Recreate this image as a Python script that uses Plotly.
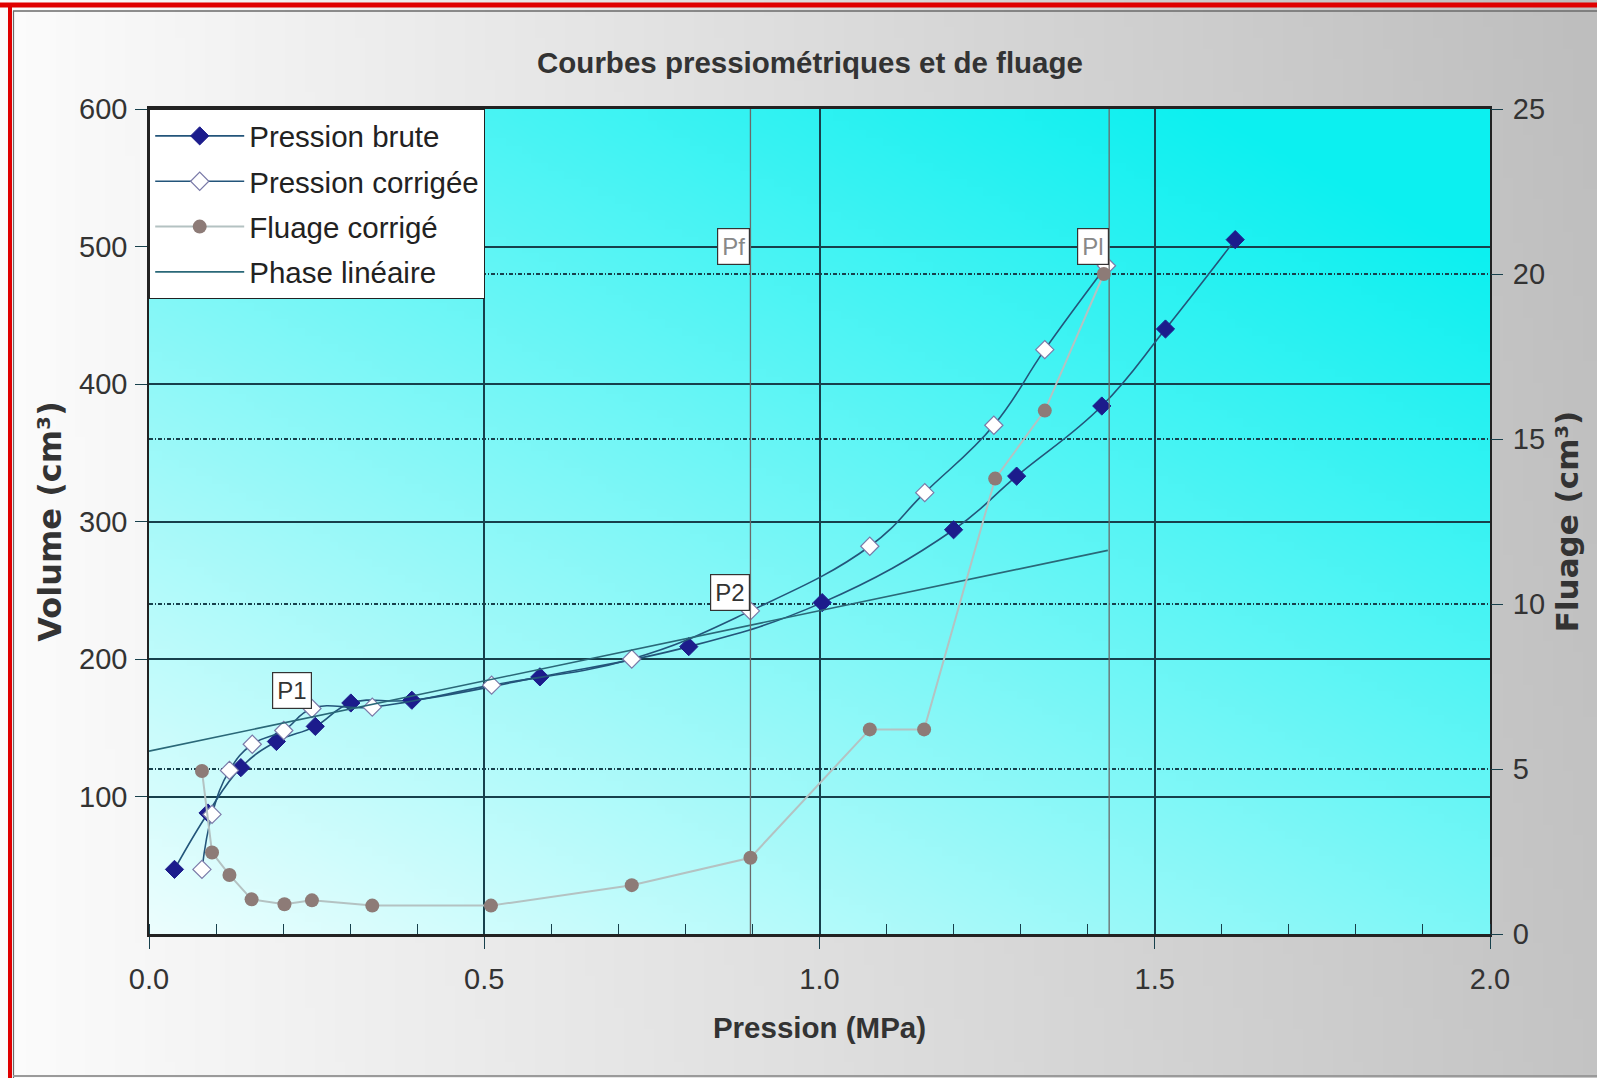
import base64
import struct
import zlib

import numpy as np
import plotly.graph_objects as go

# ---------------- data ----------------
pression_brute = [0.038, 0.088, 0.137, 0.190, 0.248, 0.301, 0.392, 0.583, 0.805, 1.004, 1.200, 1.294, 1.421, 1.516, 1.620]
volume_brute = [47, 88, 121, 140, 151, 168, 170, 187, 209, 241, 294, 333, 384, 440, 505]

pression_corrigee = [0.079, 0.094, 0.120, 0.154, 0.201, 0.243, 0.333, 0.511, 0.720, 0.897, 1.075, 1.157, 1.260, 1.336, 1.428]
volume_corrige = [47, 87, 119, 138, 148, 164, 165, 181, 200, 235, 282, 321, 370, 425, 486]

pression_fluage = [0.079, 0.094, 0.120, 0.153, 0.202, 0.243, 0.333, 0.510, 0.720, 0.897, 1.075, 1.156, 1.262, 1.336, 1.424]
fluage_corrige = [4.94, 2.47, 1.79, 1.05, 0.90, 1.02, 0.86, 0.86, 1.48, 2.31, 6.20, 6.20, 13.8, 15.86, 20.0]

phase_lineaire_x = [0.0, 1.43]
phase_lineaire_y = [133, 279]

pf_x = 0.897
pl_x = 1.432
vertical_y = [0, 600]

labels_points = {"P1": (0.243, 164), "P2": (0.897, 235)}
labels_lines = {"Pf": (pf_x, 500), "Pl": (pl_x, 500)}

x_tickvals = [0.0, 0.5, 1.0, 1.5, 2.0]
x_ticktext = ["0.0", "0.5", "1.0", "1.5", "2.0"]
y_tickvals = [100, 200, 300, 400, 500, 600]
y2_tickvals = [0, 5, 10, 15, 20, 25]

# ---------------- styles ----------------
W, H = 1597, 1078
L, R, T, B = 149, 107, 109, 144
PW, PH = W - L - R, H - T - B

SANS = "Liberation Sans, Arial, sans-serif"
WIDE_BOLD = "DejaVu Sans, Verdana, sans-serif"
GRID = "#17404c"
TXT = "#333333"


def png_uri(arr):
    h, w, _ = arr.shape
    raw = b"".join(b"\x00" + arr[i].tobytes() for i in range(h))

    def chunk(tag, data):
        c = struct.pack(">I", len(data)) + tag + data
        return c + struct.pack(">I", zlib.crc32(tag + data) & 0xFFFFFFFF)

    png = (b"\x89PNG\r\n\x1a\n"
           + chunk(b"IHDR", struct.pack(">IIBBBBB", w, h, 8, 2, 0, 0, 0))
           + chunk(b"IDAT", zlib.compress(raw, 9))
           + chunk(b"IEND", b""))
    return "data:image/png;base64," + base64.b64encode(png).decode()


# plot area gradient: light at bottom-left, cyan at top-right
gw, gh = 160, 100
u = np.linspace(0, 1, gw)[None, :]
v = np.linspace(1, 0, gh)[:, None]
t = np.clip(0.5 * u + 0.6 * v, 0, 1)
light = np.array([236, 254, 254], float)
cyan = np.array([12, 240, 240], float)
plot_img = (light[None, None, :] * (1 - t[..., None]) + cyan[None, None, :] * t[..., None]).astype(np.uint8)

# page gradient: white on the left, grey on the right
pu = np.linspace(0, 1, gw)[None, :] * np.ones((gh, 1))
pv = np.linspace(0, 1, gh)[:, None] * np.ones((1, gw))
shade = 252 - 56 * pu - 6 * (1 - pv) * pu
page_img = np.repeat(shade[..., None], 3, axis=2).astype(np.uint8)

fig = go.Figure()

fig.add_trace(go.Scatter(
    x=pression_brute, y=volume_brute, name="Pression brute", legendgroup="a",
    mode="lines+markers", line=dict(color="#23557a", width=1.6, shape="spline", smoothing=1.2),
    marker=dict(symbol="diamond", size=14, color="#1c1c8c", line=dict(color="#1c1c8c", width=1)),
))
fig.add_trace(go.Scatter(
    x=pression_corrigee, y=volume_corrige, name="Pression corrigée", legendgroup="b",
    mode="lines+markers", line=dict(color="#23557a", width=1.6, shape="spline", smoothing=1.2),
    marker=dict(symbol="diamond", size=14, color="white", line=dict(color="#7a7aa8", width=1.2)),
))
fig.add_trace(go.Scatter(
    x=pression_fluage, y=fluage_corrige, name="Fluage corrigé", yaxis="y2", legendgroup="c",
    mode="lines+markers", line=dict(color="#b4c2c2", width=2),
    marker=dict(symbol="circle", size=14, color="#8d7b77"),
))
fig.add_trace(go.Scatter(
    x=phase_lineaire_x, y=phase_lineaire_y, name="Phase linéaire", legendgroup="d",
    mode="lines", line=dict(color="#2a6878", width=1.6),
))
for xv in (pf_x, pl_x):
    fig.add_trace(go.Scatter(
        x=[xv, xv], y=vertical_y, mode="lines", showlegend=False, hoverinfo="skip",
        line=dict(color="#6a6a6a", width=1.3),
    ))

annotations = []
for txt, (ax_, ay_) in labels_points.items():
    annotations.append(dict(
        x=ax_, y=ay_, xref="x", yref="y", text=txt, showarrow=False,
        xanchor="right", yanchor="bottom", bgcolor="white", bordercolor="#333", borderwidth=1.2,
        borderpad=4, font=dict(family=SANS, size=24, color=TXT),
    ))
for txt, (ax_, ay_) in labels_lines.items():
    annotations.append(dict(
        x=ax_, y=ay_, xref="x", yref="y", text=txt, showarrow=False,
        xanchor="right", yanchor="middle", bgcolor="white", bordercolor="#333", borderwidth=1.2,
        borderpad=4, font=dict(family=SANS, size=24, color="#888888"),
    ))


def px_to_paper_x(px):
    return (px - L) / PW


def px_to_paper_y(py):
    return (H - B - py) / PH


images = [
    dict(source=png_uri(page_img), xref="paper", yref="paper",
         x=px_to_paper_x(0), y=px_to_paper_y(0), sizex=W / PW, sizey=H / PH,
         xanchor="left", yanchor="top", sizing="stretch", layer="below"),
    dict(source=png_uri(plot_img), xref="paper", yref="paper",
         x=0, y=1, sizex=1, sizey=1, xanchor="left", yanchor="top", sizing="stretch", layer="below"),
]

shapes = [
    dict(type="line", xref="paper", yref="paper", x0=px_to_paper_x(0), x1=px_to_paper_x(W),
         y0=px_to_paper_y(5), y1=px_to_paper_y(5), line=dict(color="#e00000", width=5)),
    dict(type="line", xref="paper", yref="paper", x0=px_to_paper_x(13), x1=px_to_paper_x(W),
         y0=px_to_paper_y(11), y1=px_to_paper_y(11), line=dict(color="#6a6a6a", width=1.5)),
    dict(type="line", xref="paper", yref="paper", x0=px_to_paper_x(10), x1=px_to_paper_x(10),
         y0=px_to_paper_y(3), y1=px_to_paper_y(H), line=dict(color="#e00000", width=4)),
    dict(type="line", xref="paper", yref="paper", x0=px_to_paper_x(13.5), x1=px_to_paper_x(13.5),
         y0=px_to_paper_y(11), y1=px_to_paper_y(H), line=dict(color="#6a6a6a", width=1.2)),
    dict(type="line", xref="paper", yref="paper", x0=px_to_paper_x(13), x1=px_to_paper_x(W),
         y0=px_to_paper_y(H - 2), y1=px_to_paper_y(H - 2), line=dict(color="#9a9a9a", width=2)),
]

fig.update_layout(
    width=W, height=H,
    margin=dict(l=L, r=R, t=T, b=B, pad=0),
    paper_bgcolor="white", plot_bgcolor="rgba(0,0,0,0)",
    images=images, shapes=shapes, annotations=annotations,
    title=dict(text="Courbes pressiométriques et de fluage", x=810 / W, xref="container",
               y=1 - 63 / H, yref="container", xanchor="center", yanchor="middle",
               font=dict(family=SANS, size=29.5, color=TXT, weight="bold")),
    showlegend=True,
    legend=dict(x=0, y=1, xanchor="left", yanchor="top", bgcolor="white", bordercolor="#222",
                borderwidth=1.2, font=dict(family=SANS, size=29.5, color="#222"),
                itemwidth=89, tracegroupgap=4),
    xaxis=dict(range=[0, 2], tickvals=x_tickvals, ticktext=x_ticktext, ticks="outside", ticklen=12,
               tickcolor=GRID, tickwidth=1.3, showgrid=True, gridcolor=GRID, gridwidth=1.5,
               showline=True, linecolor="#222", linewidth=2.5, mirror=True, zeroline=False,
               tickfont=dict(family=SANS, size=29, color=TXT), ticklabelstandoff=5,
               minor=dict(dtick=0.1, ticks="inside", ticklen=10, tickcolor=GRID, tickwidth=1.3, showgrid=False),
               title=dict(text="Pression (MPa)", standoff=24,
                          font=dict(family=SANS, size=29.5, color=TXT, weight="bold"))),
    yaxis=dict(range=[0, 600], tickvals=y_tickvals, ticks="outside", ticklen=12, tickcolor=GRID,
               tickwidth=1.3, showgrid=True, gridcolor=GRID, gridwidth=1.5, showline=True,
               linecolor="#222", linewidth=1.5, mirror=True, zeroline=False,
               tickfont=dict(family=SANS, size=29, color=TXT), ticklabelstandoff=2,
               title=dict(text="Volume (cm³)", standoff=8,
                          font=dict(family=WIDE_BOLD, size=32, color=TXT, weight="bold"))),
    yaxis2=dict(range=[0, 25], overlaying="y", side="right", tickvals=y2_tickvals, ticks="outside",
                ticklen=12, tickcolor=GRID, tickwidth=1.3, showgrid=True, gridcolor=GRID, gridwidth=1.6,
                griddash="4px,2px,1px,2px", showline=False, zeroline=False,
                tickfont=dict(family=SANS, size=29, color=TXT), ticklabelstandoff=4,
                title=dict(text="Fluage (cm³)", standoff=12,
                           font=dict(family=WIDE_BOLD, size=31, color=TXT, weight="bold"))),
)

fig.write_html("out.html")
